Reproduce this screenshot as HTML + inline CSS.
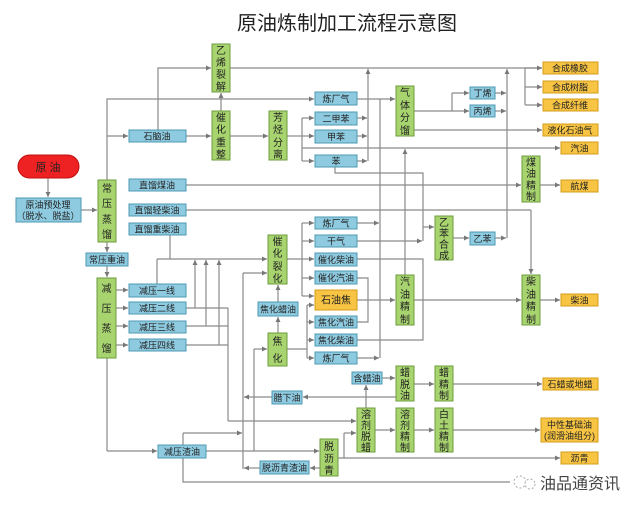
<!DOCTYPE html>
<html><head><meta charset="utf-8"><style>
html,body{margin:0;padding:0;background:#fff;}
svg{display:block;font-family:"Liberation Sans","Noto Sans CJK SC",sans-serif;}
.b{fill:#8fcbe0;stroke:#4d98b3;stroke-width:1}
.g{fill:#a8d46f;stroke:#6d9b3d;stroke-width:1}
.y{fill:#f7c443;stroke:#d49c1a;stroke-width:1}
.l{fill:none;stroke:#8a8a8a;stroke-width:1.2}
.a{fill:none;stroke:#8a8a8a;stroke-width:1.2;marker-end:url(#ar)}
text{font-size:9px;fill:#222;text-anchor:middle}
.v{font-size:10px}
</style></head><body>
<svg width="640" height="511" viewBox="0 0 640 511" xmlns="http://www.w3.org/2000/svg">
<defs><marker id="ar" markerWidth="6" markerHeight="6" refX="5" refY="3" orient="auto" markerUnits="userSpaceOnUse"><path d="M0,0.5 L5,3 L0,5.5z" fill="#777"/></marker></defs>
<text x="347" y="30" style="font-size:20px;fill:#222">原油炼制加工流程示意图</text>

<path class="a" d="M48,178 V197"/>
<path class="a" d="M81,210 H97"/>
<path class="a" d="M107,180 V99 H314"/>
<path class="a" d="M107,136 H128"/>
<path class="a" d="M158,130 V68 H211"/>
<path class="a" d="M186,136 H211"/>
<path class="a" d="M221,111 V93"/>
<path class="a" d="M230,136 H268"/>
<path class="l" d="M287,136 H302"/>
<path class="l" d="M302,118 V161"/>
<path class="a" d="M302,118 H314"/><path class="a" d="M302,136 H314"/><path class="a" d="M302,161 H314"/>
<path class="a" d="M302,148 H560"/>
<path class="l" d="M230,68 H542"/>
<path class="a" d="M525,68 H542"/><path class="l" d="M525,68 V105"/><path class="a" d="M525,87 H542"/><path class="a" d="M525,105 H542"/>
<path class="a" d="M357,118 H367"/><path class="a" d="M357,136 H367"/><path class="a" d="M357,161 H367"/>
<path class="a" d="M368,161 V69"/>
<path class="a" d="M357,99 H395"/>
<path class="l" d="M414,111 H452 M452,93 V111"/>
<path class="a" d="M452,93 H469"/><path class="a" d="M452,111 H469"/>
<path class="a" d="M495,93 H506"/><path class="a" d="M495,111 H506"/>
<path class="a" d="M507,238 V69"/>
<path class="a" d="M414,130 H542"/>
<path class="l" d="M335,167 V173 H423 V241"/>
<path class="a" d="M423,227 H434"/>
<path class="a" d="M453,238 H469"/><path class="a" d="M495,238 H506"/>
<path class="a" d="M186,185 H521"/>
<path class="a" d="M540,185 H560"/>
<path class="l" d="M186,210 H531"/><path class="a" d="M531,210 V274"/>
<path class="a" d="M540,300 H560"/>
<path class="a" d="M414,300 H521"/>
<path class="l" d="M170,235 V259"/>
<path class="a" d="M157,259 H267"/>
<path class="l" d="M157,259 V284"/>
<path class="a" d="M195,308 V260"/><path class="a" d="M206,326 V260"/><path class="a" d="M219,345 V260"/>
<path class="l" d="M186,308 H228 M186,326 H228 M186,345 H228"/>
<path class="l" d="M228,308 V421"/>
<path class="a" d="M228,421 H356"/>
<path class="a" d="M107,242 V252"/>
<path class="a" d="M107,266 V277"/>
<path class="a" d="M116,290 H128"/><path class="a" d="M116,308 H128"/><path class="a" d="M116,326 H128"/><path class="a" d="M116,345 H128"/>
<path class="l" d="M107,358 V451"/><path class="a" d="M107,451 H157"/>
<path class="a" d="M206,451 H319"/>
<path class="l" d="M183,445 V433"/><path class="a" d="M183,433 H242"/>
<path class="l" d="M183,458 V482 H510"/>
<path class="l" d="M243,469 V273"/><path class="a" d="M243,273 H267"/>
<path class="l" d="M254,451 V349"/><path class="a" d="M254,349 H267"/>
<path class="a" d="M278,333 V317"/><path class="a" d="M278,302 V285"/>
<path class="l" d="M287,259 H302 M302,223 V296"/>
<path class="a" d="M302,223 H314"/><path class="a" d="M302,241 H314"/><path class="a" d="M302,259 H314"/><path class="a" d="M302,278 H314"/><path class="a" d="M302,296 H314"/>
<path class="l" d="M287,349 H307 M307,305 V358"/>
<path class="a" d="M307,305 H314"/><path class="a" d="M307,322 H314"/><path class="a" d="M307,340 H314"/><path class="a" d="M307,358 H314"/>
<path class="a" d="M357,223 H379"/><path class="a" d="M357,358 H379"/>
<path class="l" d="M380,358 V99"/>
<path class="a" d="M357,241 H422"/>
<path class="l" d="M357,259 H423 V340 H357"/>
<path class="l" d="M357,278 H368 V322 H357"/>
<path class="a" d="M357,300 H395"/>
<path class="a" d="M405,275 V149"/>
<path class="a" d="M366,408 V385"/>
<path class="a" d="M382,378 H395"/>
<path class="a" d="M414,384 H434"/>
<path class="a" d="M453,384 H542"/>
<path class="a" d="M396,397 H303"/>
<path class="a" d="M272,397 H244"/>
<path class="a" d="M375,430 H395"/><path class="a" d="M414,430 H434"/><path class="a" d="M453,430 H540"/>
<path class="l" d="M338,458 H344 V433"/><path class="a" d="M344,433 H356"/>
<path class="a" d="M344,458 H560"/>
<path class="a" d="M320,468 H310"/>
<path class="a" d="M260,468 H244"/>

<rect x="18" y="155" width="61" height="23" rx="11.5" fill="#ee2222" stroke="#c01010"/>
<text x="48" y="171" style="font-size:11px;fill:#222">原 油</text>
<rect class="b" x="16" y="198" width="65" height="24"/>
<text x="48" y="208">原油预处理</text><text x="48" y="219">（脱水、脱盐）</text>

<rect class="b" x="129" y="130" width="57" height="12"/><text x="157" y="139.5">石脑油</text>
<rect class="b" x="129" y="179" width="57" height="12"/><text x="157" y="188.5">直馏煤油</text>
<rect class="b" x="129" y="204" width="57" height="12"/><text x="157" y="213.5">直馏轻柴油</text>
<rect class="b" x="129" y="223" width="57" height="12"/><text x="157" y="232.5">直馏重柴油</text>
<rect class="b" x="86" y="253" width="42" height="13"/><text x="107" y="263">常压重油</text>
<rect class="b" x="129" y="284" width="57" height="13"/><text x="157" y="294">减压一线</text>
<rect class="b" x="129" y="302" width="57" height="12"/><text x="157" y="311.5">减压二线</text>
<rect class="b" x="129" y="321" width="57" height="12"/><text x="157" y="330.5">减压三线</text>
<rect class="b" x="129" y="339" width="57" height="12"/><text x="157" y="348.5">减压四线</text>

<rect class="b" x="315" y="92" width="42" height="13"/><text x="336" y="102">炼厂气</text>
<rect class="b" x="315" y="112" width="42" height="13"/><text x="336" y="122">二甲苯</text>
<rect class="b" x="315" y="130" width="42" height="13"/><text x="336" y="140">甲苯</text>
<rect class="b" x="315" y="155" width="42" height="12"/><text x="336" y="164.5">苯</text>
<rect class="b" x="470" y="87" width="25" height="12"/><text x="482.5" y="96.5">丁烯</text>
<rect class="b" x="470" y="105" width="25" height="12"/><text x="482.5" y="114.5">丙烯</text>
<rect class="b" x="470" y="232" width="25" height="13"/><text x="482.5" y="242">乙苯</text>

<rect class="b" x="315" y="217" width="42" height="12"/><text x="336" y="226.5">炼厂气</text>
<rect class="b" x="315" y="235" width="42" height="12"/><text x="336" y="244.5">干气</text>
<rect class="b" x="315" y="253" width="42" height="13"/><text x="336" y="263">催化柴油</text>
<rect class="b" x="315" y="271" width="42" height="13"/><text x="336" y="281">催化汽油</text>
<rect class="y" x="315" y="290" width="42" height="20"/><text x="336" y="303.5" style="font-size:10px">石油焦</text>
<rect class="b" x="315" y="316" width="42" height="12"/><text x="336" y="325.5">焦化汽油</text>
<rect class="b" x="315" y="334" width="42" height="12"/><text x="336" y="343.5">焦化柴油</text>
<rect class="b" x="315" y="352" width="42" height="12"/><text x="336" y="361.5">炼厂气</text>
<rect class="b" x="258" y="302" width="40" height="14"/><text x="278" y="312.5">焦化蜡油</text>
<rect class="b" x="352" y="372" width="30" height="12"/><text x="367" y="381.5">含蜡油</text>
<rect class="b" x="272" y="391" width="30" height="13"/><text x="287" y="401">腊下油</text>
<rect class="b" x="158" y="445" width="48" height="13"/><text x="182" y="455">减压渣油</text>
<rect class="b" x="260" y="461" width="49" height="13"/><text x="284.5" y="471">脱沥青渣油</text>

<rect class="y" x="543" y="62" width="55" height="12"/><text x="570" y="71.5">合成橡胶</text>
<rect class="y" x="543" y="81" width="55" height="12"/><text x="570" y="90.5">合成树脂</text>
<rect class="y" x="543" y="99" width="55" height="12"/><text x="570" y="108.5">合成纤维</text>
<rect class="y" x="543" y="124" width="55" height="12"/><text x="570" y="133.5">液化石油气</text>
<rect class="y" x="561" y="142" width="37" height="12"/><text x="579.5" y="151.5">汽油</text>
<rect class="y" x="561" y="180" width="37" height="12"/><text x="579.5" y="189.5">航煤</text>
<rect class="y" x="561" y="294" width="37" height="12"/><text x="579.5" y="303.5">柴油</text>
<rect class="y" x="543" y="378" width="55" height="12"/><text x="570" y="387.5">石蜡或地蜡</text>
<rect class="y" x="541" y="418" width="57" height="24"/><text x="569.5" y="428">中性基础油</text><text x="569.5" y="439">(润滑油组分)</text>
<rect class="y" x="561" y="452" width="37" height="12"/><text x="579.5" y="461.5">沥青</text>

<rect class="g" x="98" y="180" width="18" height="62"/><text class="v" x="107"><tspan x="107" y="192">常</tspan><tspan x="107" y="207">压</tspan><tspan x="107" y="223">蒸</tspan><tspan x="107" y="238">馏</tspan></text>
<rect class="g" x="212" y="44" width="18" height="48"/><text class="v"><tspan x="221" y="54">乙</tspan><tspan x="221" y="66">烯</tspan><tspan x="221" y="78">裂</tspan><tspan x="221" y="90">解</tspan></text>
<rect class="g" x="212" y="111" width="18" height="49"/><text class="v"><tspan x="221" y="121">催</tspan><tspan x="221" y="133">化</tspan><tspan x="221" y="146">重</tspan><tspan x="221" y="158">整</tspan></text>
<rect class="g" x="269" y="111" width="18" height="49"/><text class="v"><tspan x="278" y="121">芳</tspan><tspan x="278" y="133">烃</tspan><tspan x="278" y="146">分</tspan><tspan x="278" y="158">离</tspan></text>
<rect class="g" x="396" y="86" width="18" height="50"/><text class="v"><tspan x="405" y="96">气</tspan><tspan x="405" y="109">体</tspan><tspan x="405" y="121">分</tspan><tspan x="405" y="134">馏</tspan></text>
<rect class="g" x="522" y="156" width="18" height="46"/><text class="v"><tspan x="531" y="166">煤</tspan><tspan x="531" y="177">油</tspan><tspan x="531" y="189">精</tspan><tspan x="531" y="200">制</tspan></text>
<rect class="g" x="435" y="216" width="18" height="44"/><text class="v"><tspan x="444" y="226">乙</tspan><tspan x="444" y="237">苯</tspan><tspan x="444" y="248">合</tspan><tspan x="444" y="259">成</tspan></text>
<rect class="g" x="268" y="235" width="19" height="49"/><text class="v"><tspan x="277.5" y="245">催</tspan><tspan x="277.5" y="257">化</tspan><tspan x="277.5" y="270">裂</tspan><tspan x="277.5" y="282">化</tspan></text>
<rect class="g" x="268" y="333" width="19" height="33"/><text class="v"><tspan x="277.5" y="345">焦</tspan><tspan x="277.5" y="362">化</tspan></text>
<rect class="g" x="396" y="275" width="18" height="50"/><text class="v"><tspan x="405" y="285">汽</tspan><tspan x="405" y="298">油</tspan><tspan x="405" y="310">精</tspan><tspan x="405" y="323">制</tspan></text>
<rect class="g" x="522" y="275" width="18" height="50"/><text class="v"><tspan x="531" y="285">柴</tspan><tspan x="531" y="298">油</tspan><tspan x="531" y="310">精</tspan><tspan x="531" y="323">制</tspan></text>
<rect class="g" x="97" y="278" width="19" height="80"/><text class="v"><tspan x="106.5" y="292">减</tspan><tspan x="106.5" y="312">压</tspan><tspan x="106.5" y="332">蒸</tspan><tspan x="106.5" y="352">馏</tspan></text>
<rect class="g" x="396" y="366" width="18" height="35"/><text class="v"><tspan x="405" y="376">蜡</tspan><tspan x="405" y="388">脱</tspan><tspan x="405" y="399">油</tspan></text>
<rect class="g" x="435" y="366" width="18" height="35"/><text class="v"><tspan x="444" y="376">蜡</tspan><tspan x="444" y="388">精</tspan><tspan x="444" y="399">制</tspan></text>
<rect class="g" x="357" y="408" width="18" height="44"/><text class="v"><tspan x="366" y="418">溶</tspan><tspan x="366" y="429">剂</tspan><tspan x="366" y="440">脱</tspan><tspan x="366" y="451">蜡</tspan></text>
<rect class="g" x="396" y="408" width="18" height="44"/><text class="v"><tspan x="405" y="418">溶</tspan><tspan x="405" y="429">剂</tspan><tspan x="405" y="440">精</tspan><tspan x="405" y="451">制</tspan></text>
<rect class="g" x="435" y="408" width="18" height="44"/><text class="v"><tspan x="444" y="418">白</tspan><tspan x="444" y="429">土</tspan><tspan x="444" y="440">精</tspan><tspan x="444" y="451">制</tspan></text>
<rect class="g" x="320" y="439" width="18" height="37"/><text class="v"><tspan x="329" y="450">脱</tspan><tspan x="329" y="462">沥</tspan><tspan x="329" y="474">青</tspan></text>

<circle cx="520" cy="482" r="6" fill="#fff" stroke="#aaa" stroke-dasharray="2,2"/>
<circle cx="530" cy="484" r="5" fill="#fff" stroke="#aaa" stroke-dasharray="2,2"/>
<text x="580" y="489" style="font-size:16px;fill:#444">油品通资讯</text>
</svg>
</body></html>
